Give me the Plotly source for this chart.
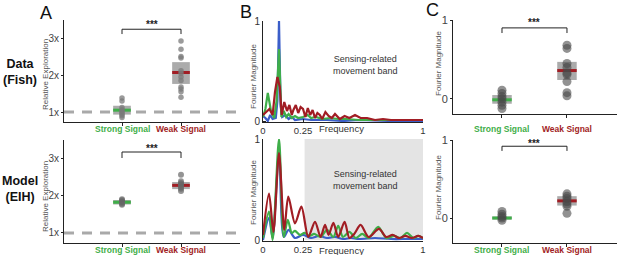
import plotly.graph_objects as go

W, H = 617, 255

# ---------------- data ----------------
groups = ["Strong Signal", "Weak Signal"]
group_colors = ["#3fae49", "#a11d24"]
fold_ticks = [1, 2, 3]
fold_labels = ["1x", "2x", "3x"]
baseline = 1.0

# Panel A - Data (Fish): relative exploration
fish_strong = [1.38, 1.30, 1.12, 1.06, 1.02, 0.98, 0.94, 0.90, 0.85]
fish_weak = [2.92, 2.70, 2.50, 2.46, 2.12, 2.05, 1.95, 1.85, 1.68, 1.62, 1.55, 1.40]
fish_box_lo = [0.93, 1.76]
fish_box_hi = [1.17, 2.35]
fish_median = [1.05, 2.07]

# Panel A - Model (EIH)
model_strong = [1.90, 1.87, 1.84, 1.81, 1.78, 1.75]
model_weak = [2.55, 2.38, 2.33, 2.30, 2.27, 2.22, 2.18, 2.12]
model_box_lo = [1.76, 2.17]
model_box_hi = [1.88, 2.36]
model_median = [1.82, 2.27]

# Panel B - Fourier spectra (Data)
fish_blue_f = [0, 0.015, 0.03, 0.045, 0.06, 0.08, 0.09, 0.1, 0.11, 0.12, 0.14, 0.16, 0.18, 0.2, 0.25, 0.3, 0.4, 0.5, 0.6, 0.8, 1.0]
fish_blue_v = [0.05, 0.03, 0.0, 0.06, 0.02, 0.03, 0.2, 1.0, 0.15, 0.04, 0.06, 0.02, 0.04, 0.01, 0.02, 0.01, 0.01, 0.0, 0.01, 0.0, 0.0]
fish_green_f = [0, 0.015, 0.03, 0.05, 0.07, 0.085, 0.1, 0.115, 0.13, 0.145, 0.16, 0.18, 0.2, 0.22, 0.25, 0.28, 0.3, 0.33, 0.37, 0.42, 0.47, 0.52, 0.6, 0.7, 0.8, 0.9, 1.0]
fish_green_v = [0.04, 0.12, 0.28, 0.1, 0.03, 0.2, 0.72, 0.04, 0.1, 0.04, 0.07, 0.03, 0.05, 0.03, 0.04, 0.06, 0.03, 0.04, 0.02, 0.03, 0.02, 0.02, 0.01, 0.01, 0.01, 0.01, 0.01]
fish_red_f = [0, 0.02, 0.04, 0.06, 0.075, 0.09, 0.105, 0.117, 0.133, 0.15, 0.165, 0.18, 0.19, 0.205, 0.22, 0.235, 0.25, 0.265, 0.28, 0.295, 0.31, 0.325, 0.34, 0.355, 0.37, 0.39, 0.41, 0.43, 0.45, 0.48, 0.51, 0.54, 0.575, 0.61, 0.65, 0.7, 0.75, 0.8, 0.85, 0.9, 0.95, 1.0]
fish_red_v = [0.06, 0.09, 0.12, 0.06, 0.29, 0.44, 0.34, 0.06, 0.19, 0.1, 0.16, 0.06, 0.11, 0.16, 0.08, 0.14, 0.12, 0.04, 0.13, 0.06, 0.11, 0.03, 0.08, 0.06, 0.02, 0.09, 0.05, 0.03, 0.07, 0.02, 0.05, 0.03, 0.06, 0.03, 0.03, 0.01, 0.02, 0.01, 0.01, 0.01, 0.01, 0.01]

# Panel B - Fourier spectra (Model)
model_blue_f = [0, 0.0375, 0.06, 0.1, 0.13, 0.16, 0.2, 0.25, 0.3, 0.35, 0.4, 0.45, 0.5, 0.55, 0.6, 0.7, 0.8, 0.9, 1.0]
model_blue_v = [0.0, 0.22, 0.02, 0.88, 0.03, 0.1, 0.02, 0.05, 0.02, 0.04, 0.02, 0.03, 0.01, 0.02, 0.01, 0.02, 0.01, 0.01, 0.01]
model_green_f = [0, 0.0375, 0.06, 0.1, 0.13, 0.155, 0.18, 0.2, 0.23, 0.26, 0.29, 0.32, 0.36, 0.40, 0.44, 0.47, 0.5, 0.54, 0.58, 0.62, 0.66, 0.72, 0.77, 0.82, 0.86, 0.9, 0.94, 0.97, 1.0]
model_green_v = [0.02, 0.28, 0.0, 1.0, 0.03, 0.2, 0.07, 0.09, 0.05, 0.07, 0.04, 0.06, 0.03, 0.1, 0.03, 0.14, 0.03, 0.08, 0.02, 0.06, 0.02, 0.13, 0.02, 0.04, 0.02, 0.07, 0.02, 0.04, 0.02]
model_red_f = [0, 0.0375, 0.065, 0.1, 0.133, 0.158, 0.2, 0.24, 0.283, 0.325, 0.36, 0.3875, 0.41, 0.44, 0.47, 0.51, 0.54, 0.57, 0.61, 0.66, 0.725, 0.77, 0.81, 0.85, 0.89, 0.93, 0.97, 1.0]
model_red_v = [0.05, 0.46, 0.08, 0.86, 0.1, 0.43, 0.165, 0.33, 0.03, 0.18, 0.03, 0.15, 0.05, 0.17, 0.03, 0.18, 0.02, 0.06, 0.15, 0.03, 0.11, 0.03, 0.05, 0.02, 0.04, 0.02, 0.04, 0.02]
band = [0.26, 1.0]
freq_ticks = [0, 0.25, 1]
freq_labels = ["0", "0.25", "1"]

# Panel C - Fourier magnitude in band
cfish_strong = [0.11, 0.07, 0.03, 0.0, -0.04, -0.08, -0.12]
cfish_weak = [0.68, 0.64, 0.45, 0.40, 0.33, 0.31, 0.22, 0.08, 0.04]
cfish_box_lo = [-0.06, 0.24]
cfish_box_hi = [0.05, 0.47]
cfish_median = [-0.01, 0.36]

cmodel_strong = [0.085, 0.05, 0.02, 0.0, -0.03]
cmodel_weak = [0.31, 0.28, 0.25, 0.21, 0.18, 0.15, 0.06]
cmodel_box_lo = [-0.02, 0.16]
cmodel_box_hi = [0.02, 0.28]
cmodel_median = [0.0, 0.22]

# ---------------- helpers ----------------
FONT = "Liberation Sans, Arial, sans-serif"
BLUE, GREEN, RED = "#3b5ec9", "#3fae49", "#a11d24"


def dx(a, b):
    return [a / W, min(b / W, 1.0)]


def dy(top, bottom):
    return [1 - bottom / H, 1 - top / H]


def px(x):
    return x / W


def py(y):
    return 1 - y / H


fig = go.Figure()

axes_spec = {
    1: dict(x=dx(64, 240), y=dy(20, 122), xr=[-0.983, 2.0], yr=[0.73, 3.49]),
    2: dict(x=dx(64, 240), y=dy(140, 243), xr=[-0.983, 2.0], yr=[0.733, 3.48]),
    3: dict(x=dx(263, 423), y=dy(21, 122), xr=[0, 1], yr=[-0.01, 1.0]),
    4: dict(x=dx(263, 423), y=dy(139, 241), xr=[0, 1], yr=[-0.0099, 1.0]),
    5: dict(x=dx(453, 617), y=dy(20, 114), xr=[-0.754, 1.77], yr=[-0.19, 1.0]),
    6: dict(x=dx(453, 617), y=dy(140, 243), xr=[-0.754, 1.77], yr=[-0.32, 1.0]),
}

layout = dict(
    width=W, height=H, margin=dict(l=0, r=0, t=0, b=0),
    paper_bgcolor="white", plot_bgcolor="white", showlegend=False,
    font=dict(family=FONT, color="#333"),
)

for i, s in axes_spec.items():
    xn = "xaxis" if i == 1 else f"xaxis{i}"
    yn = "yaxis" if i == 1 else f"yaxis{i}"
    xa = dict(domain=s["x"], range=s["xr"], anchor=f"y{i}" if i > 1 else "y",
              showline=True, linecolor="#222", linewidth=1, showgrid=False,
              zeroline=False, fixedrange=True, automargin=False)
    ya = dict(domain=s["y"], range=s["yr"], anchor=f"x{i}" if i > 1 else "x",
              showline=True, linecolor="#222", linewidth=1, showgrid=False,
              zeroline=False, fixedrange=True, automargin=False)
    if i in (1, 2):
        ya.update(tickvals=fold_ticks, ticktext=fold_labels, ticks="outside", ticklen=2,
                  tickcolor="#222", tickfont=dict(size=10, color="#444"))
        xa.update(tickvals=[0, 1], ticks="outside", ticklen=3, tickcolor="#222", showticklabels=False)
    elif i in (3, 4):
        ya.update(tickvals=[0, 1], ticktext=["0", "1"], ticks="inside", ticklen=3,
                  tickcolor="#222", tickfont=dict(size=10, color="#333"))
        xa.update(tickvals=freq_ticks, ticktext=freq_labels, ticks="inside", ticklen=3,
                  tickcolor="#222", tickfont=dict(size=9.5, color="#333"))
    else:
        ya.update(tickvals=[0, 1], ticktext=["0", "1"], ticks="outside", ticklen=2,
                  tickcolor="#222", tickfont=dict(size=11, color="#444"))
        xa.update(tickvals=[0, 1], ticks="outside", ticklen=3, tickcolor="#222", showticklabels=False)
    layout[xn] = xa
    layout[yn] = ya

fig.update_layout(**layout)


def ax(i):
    return ("x" if i == 1 else f"x{i}"), ("y" if i == 1 else f"y{i}")


def group_panel(i, strong, weak, lo, hi, med, pt_size, pt_color, pt_opacity, dashed):
    xa, ya = ax(i)
    if dashed:
        r = axes_spec[i]["xr"]
        fig.add_trace(go.Scatter(x=r, y=[baseline, baseline], mode="lines", xaxis=xa, yaxis=ya,
                                 line=dict(color="#a9a9a9", width=3, dash="10px,8px"), hoverinfo="skip"))
    fig.add_trace(go.Bar(x=[0, 1], y=[h - l for l, h in zip(lo, hi)], base=lo, width=0.3,
                         marker=dict(color="#a3a3a3", line=dict(width=0)), opacity=0.9,
                         xaxis=xa, yaxis=ya, hoverinfo="skip"))
    for g in range(2):
        fig.add_trace(go.Scatter(x=[g - 0.15, g + 0.15], y=[med[g], med[g]], mode="lines",
                                 xaxis=xa, yaxis=ya, line=dict(color=group_colors[g], width=3),
                                 hoverinfo="skip"))
    for g, vals in enumerate([strong, weak]):
        fig.add_trace(go.Scatter(x=[g] * len(vals), y=vals, mode="markers", xaxis=xa, yaxis=ya,
                                 marker=dict(size=pt_size, color=pt_color, opacity=pt_opacity,
                                             line=dict(width=0))))


group_panel(1, fish_strong, fish_weak, fish_box_lo, fish_box_hi, fish_median, 5.5, "#7a7a7a", 0.75, True)
group_panel(2, model_strong, model_weak, model_box_lo, model_box_hi, model_median, 6, "#666", 0.7, True)
group_panel(5, cfish_strong, cfish_weak, cfish_box_lo, cfish_box_hi, cfish_median, 9, "#4a4a4a", 0.6, False)
group_panel(6, cmodel_strong, cmodel_weak, cmodel_box_lo, cmodel_box_hi, cmodel_median, 9, "#4a4a4a", 0.6, False)

# spectra
for (f, v, c) in [(fish_blue_f, fish_blue_v, BLUE), (fish_green_f, fish_green_v, GREEN), (fish_red_f, fish_red_v, RED)]:
    fig.add_trace(go.Scatter(x=f, y=v, mode="lines", xaxis="x3", yaxis="y3",
                             line=dict(color=c, width=2.2), hoverinfo="skip"))
for (f, v, c) in [(model_blue_f, model_blue_v, BLUE), (model_green_f, model_green_v, GREEN), (model_red_f, model_red_v, RED)]:
    fig.add_trace(go.Scatter(x=f, y=v, mode="lines", xaxis="x4", yaxis="y4",
                             line=dict(color=c, width=2.2, shape="spline", smoothing=0.8), hoverinfo="skip"))

# shaded movement band (model)
fig.add_shape(type="rect", xref="x4", yref="y4", x0=band[0], x1=band[1], y0=0, y1=1,
              fillcolor="#e4e4e4", line=dict(width=0), layer="below")

# significance brackets
brackets = {1: (3.24, 3.11), 2: (3.16, 3.0), 5: (0.9, 0.835), 6: (0.92, 0.86)}
for i, (top, low) in brackets.items():
    xa, ya = ax(i)
    fig.add_trace(go.Scatter(x=[0, 0, 1, 1], y=[low, top, top, low], mode="lines", xaxis=xa, yaxis=ya,
                             line=dict(color="#222", width=1), hoverinfo="skip"))
star_y = {1: 24, 2: 148, 5: 22, 6: 143}
for i, yy in star_y.items():
    xa, _ = ax(i)
    fig.add_annotation(x=0.5, y=py(yy), xref=xa, yref="paper", text="<b>***</b>", showarrow=False,
                       font=dict(size=10, color="#222"), xanchor="center", yanchor="middle")

# category labels
cat_y = {1: 129, 2: 250, 5: 129, 6: 250}
for i, yy in cat_y.items():
    xa, _ = ax(i)
    for g, name in enumerate(groups):
        fig.add_annotation(x=g, y=py(yy), xref=xa, yref="paper", text=f"<b>{name}</b>",
                           showarrow=False, font=dict(size=8.5, color=group_colors[g]),
                           xanchor="center", yanchor="middle")

# frequency axis labels
for i, yy in [(3, 128), (4, 250)]:
    fig.add_annotation(x=0.49, y=py(yy), xref=f"x{i}", yref="paper", text="Frequency",
                       showarrow=False, font=dict(size=9.5, color="#333"),
                       xanchor="center", yanchor="middle")

# y-axis titles
ytitles = [("Relative Exploration", 45, 74), ("Relative Exploration", 45, 196),
           ("Fourier Magnitude", 253, 77), ("Fourier Magnitude", 253, 193),
           ("Fourier Magnitude", 438, 64), ("Fourier Magnitude", 438, 188)]
for t, xx, yy in ytitles:
    fig.add_annotation(x=px(xx), y=py(yy), xref="paper", yref="paper", text=t, textangle=-90,
                       showarrow=False, font=dict(size=8, color="#555"),
                       xanchor="center", yanchor="middle")

# band text
for yy in (65, 180):
    fig.add_annotation(x=px(365), y=py(yy), xref="paper", yref="paper",
                       text="Sensing-related<br>movement band", showarrow=False,
                       font=dict(size=9, color="#333"), xanchor="center", yanchor="middle")

# row labels
for t, yy in [("Data<br>(Fish)", 72), ("Model<br>(EIH)", 189)]:
    fig.add_annotation(x=px(20), y=py(yy), xref="paper", yref="paper", text=f"<b>{t}</b>",
                       showarrow=False, font=dict(size=12.5, color="#111"),
                       xanchor="center", yanchor="middle")

# panel letters
for t, xx, yy in [("A", 46, 13), ("B", 246, 12), ("C", 433, 10)]:
    fig.add_annotation(x=px(xx), y=py(yy), xref="paper", yref="paper", text=t, showarrow=False,
                       font=dict(size=18, color="#111"), xanchor="center", yanchor="middle",
                       borderpad=0)

fig.write_html("out.html", config={"displayModeBar": False},
               post_script="document.body.style.margin='0';document.body.style.padding='0';"
                           "document.body.style.overflow='hidden';")
